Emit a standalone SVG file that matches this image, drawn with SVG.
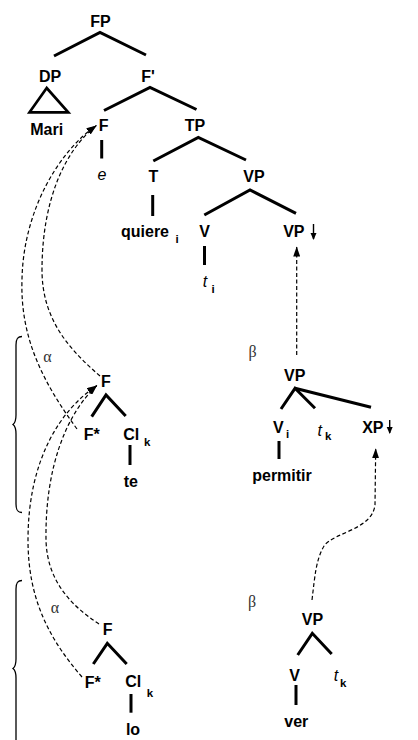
<svg xmlns="http://www.w3.org/2000/svg" width="418" height="740" viewBox="0 0 418 740">
<style>
.n{font-family:"Liberation Sans",Arial,Helvetica,sans-serif;font-weight:bold;font-size:16px;text-anchor:middle;fill:#000}
.s{font-family:"Liberation Sans",Arial,Helvetica,sans-serif;font-weight:bold;font-size:11.5px;fill:#000}
.it{font-family:"Liberation Sans",Arial,Helvetica,sans-serif;font-style:italic;font-size:16px;text-anchor:middle;fill:#000}
.g{font-family:"Liberation Serif","Times New Roman",serif;font-size:16px;text-anchor:middle;fill:#333}
.e{stroke:#000;stroke-width:3;fill:none;stroke-linecap:butt}
.d{stroke:#000;stroke-width:1.2;fill:none;stroke-dasharray:4 2.5}
.b{stroke:#000;stroke-width:1.3;fill:none}
</style>
<defs>
<marker id="ah" markerUnits="userSpaceOnUse" markerWidth="11" markerHeight="7" refX="10" refY="3.5" orient="auto">
<path d="M0,0 L10,3.5 L0,7 z" fill="#000"/>
</marker>
<marker id="dn" markerUnits="userSpaceOnUse" markerWidth="7" markerHeight="8" refX="6" refY="3" orient="auto">
<path d="M0,0 L7,3 L0,6 z" fill="#000"/>
</marker>
</defs>
<rect width="418" height="740" fill="#fff"/>
<g id="connectors">
<path class="e" d="M54,56 L100,32.5 L146,55"/>
<path class="e" d="M104,110.5 L150,87.5 L196.5,109.5"/>
<path class="e" d="M101.7,140 L101.7,158.5"/>
<path class="e" d="M153.3,161 L198.3,137.5 L246,160"/>
<path class="e" d="M152.7,195 L152.7,216"/>
<path class="e" d="M204.3,215 L250,190 L296,213.3"/>
<path class="e" d="M204.5,246 L204.5,265"/>
<path class="e" d="M281,409 L295,388.3 L315,408.3"/>
<path class="e" d="M295,388.3 L371,407.3"/>
<path class="e" d="M279,441 L279,459"/>
<path class="e" d="M91.7,416.7 L106,395 L125.7,416"/>
<path class="e" d="M130,445 L130,465"/>
<path class="e" d="M297.7,655 L312.3,633.3 L331.7,654"/>
<path class="e" d="M296,685 L296,705"/>
<path class="e" d="M93.3,664 L107.3,643.3 L126.7,664"/>
<path class="e" d="M131,694 L131,712.7"/>
<path class="d" d="M77,429 C45,385 20,340 22,280 C23,210 60,150 96.5,125.5" marker-end="url(#ah)"/>
<path class="d" d="M100,376 C70,350 42,320 42,270 C42,200 65,150 96.5,125.5" marker-end="url(#ah)"/>
<path class="d" d="M82,677 C50,640 28,600 28,540 C28,460 60,410 97,385.5" marker-end="url(#ah)"/>
<path class="d" d="M99,624 C70,605 47,580 46,540 C45,470 65,415 97,385.5" marker-end="url(#ah)"/>
<path class="d" d="M296.7,355 L296.7,246.5" marker-end="url(#ah)"/>
<path class="d" d="M312,600 C315,575 316,560 324,546 C334,532 372,530 375,505 L375.7,448.3" marker-end="url(#ah)"/>
<path stroke="#000" stroke-width="1.4" d="M313.5,224 L313.5,239" marker-end="url(#dn)"/>
<path stroke="#000" stroke-width="1.4" d="M389.7,420 L389.7,433" marker-end="url(#dn)"/>
<path class="b" d="M22,336.5 C17.5,336.5 16,339 16,345 L16,415 C16,420.5 15,423 13,424.5 C15,426 16,428.5 16,434 L16,504 C16,510 17.5,512.5 22,512.5"/>
<path class="b" d="M22,580.5 C17.5,580.5 16,583 16,589 L16,659 C16,664.5 15,667 13,668.5 C15,670 16,672.5 16,678 L16,748 C16,754 17.5,756.5 22,756.5"/>
</g>
<g id="FP"><text class="n" x="100.5" y="27">FP</text></g>
<g id="DP"><text class="n" x="50" y="81.5">DP</text>
<path d="M46.7,88 L29.5,112.3 L68.3,112.3 Z" fill="none" stroke="#000" stroke-width="2.7"/>
<text class="n" x="46.7" y="135">Mari</text></g>
<g id="Fbar"><text class="n" x="148" y="81.5">F'</text></g>
<g id="F1"><text class="n" x="103.7" y="131">F</text><text class="it" x="102" y="180">e</text></g>
<g id="TP"><text class="n" x="195" y="131">TP</text></g>
<g id="T"><text class="n" x="153.5" y="182">T</text>
<text class="n" x="145" y="236.7">quiere</text><text class="s" x="175.5" y="242.5">i</text></g>
<g id="VP1"><text class="n" x="254" y="182">VP</text></g>
<g id="V1"><text class="n" x="204.5" y="236.7">V</text><text class="it" x="205" y="287">t</text><text class="s" x="211.5" y="293">i</text></g>
<g id="VP2"><text class="n" x="293.8" y="236.7">VP</text></g>
<g id="beta1"><text class="g" x="252.5" y="357">β</text></g>
<g id="VP3"><text class="n" x="294.7" y="380.5">VP</text></g>
<g id="Vi"><text class="n" x="278.3" y="433">V</text><text class="s" x="286" y="438">i</text>
<text class="n" x="282" y="480.7">permitir</text></g>
<g id="tk1"><text class="it" x="319.7" y="436">t</text><text class="s" x="325" y="440">k</text></g>
<g id="XP"><text class="n" x="372.8" y="433">XP</text></g>
<g id="alpha1"><text class="g" x="47.5" y="362">α</text></g>
<g id="F2"><text class="n" x="106" y="387">F</text></g>
<g id="Fstar1"><text class="n" x="91.7" y="440">F*</text></g>
<g id="Cl1"><text class="n" x="131.3" y="440">Cl</text><text class="s" x="144" y="446">k</text>
<text class="n" x="130.8" y="486.5">te</text></g>
<g id="beta2"><text class="g" x="252" y="607">β</text></g>
<g id="VP4"><text class="n" x="312.5" y="625">VP</text></g>
<g id="V2"><text class="n" x="294.7" y="680.5">V</text><text class="n" x="296.3" y="726.5">ver</text></g>
<g id="tk2"><text class="it" x="336" y="681">t</text><text class="s" x="340" y="687">k</text></g>
<g id="alpha2"><text class="g" x="55" y="613">α</text></g>
<g id="F3"><text class="n" x="107.7" y="635">F</text></g>
<g id="Fstar2"><text class="n" x="92.8" y="688">F*</text></g>
<g id="Cl2"><text class="n" x="133.3" y="687">Cl</text><text class="s" x="146.7" y="696.5">k</text>
<text class="n" x="133" y="735">lo</text></g>
</svg>
